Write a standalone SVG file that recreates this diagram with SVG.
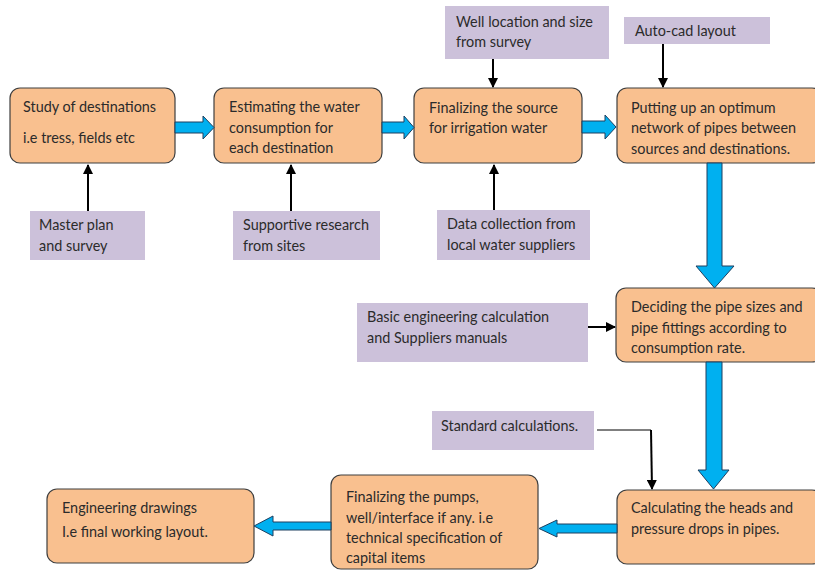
<svg xmlns="http://www.w3.org/2000/svg" width="815" height="573" viewBox="0 0 815 573">
<style>
.node rect.main{fill:#F9C08F;stroke:#3f3f3f;stroke-width:1.2}
.input rect{fill:#CCC1DA;stroke:none}
text{font-family:Lato,"Open Sans","Liberation Sans",sans-serif;font-size:14.4px;fill:#2b2b2b}
.blk{fill:#00B0F0;stroke:#1f3f5f;stroke-width:1}
.thin{stroke:#000;stroke-width:2;fill:none}
</style>
<defs>
<marker id="ah" viewBox="0 0 10 10" refX="9" refY="5" markerWidth="5" markerHeight="5" orient="auto" markerUnits="strokeWidth"><path d="M0,0 L10,5 L0,10 z" fill="#000"/></marker>
<clipPath id="c5"><rect x="616" y="288" width="206" height="67"/></clipPath>
</defs>
<rect width="815" height="573" fill="#fff"/>

<g id="n1" class="node"><rect class="main" x="10" y="88" width="165" height="75" rx="10"/><text x="23" y="112">Study of destinations</text><text x="23" y="143">i.e tress, fields etc</text></g>
<g id="n2" class="node"><rect class="main" x="214" y="88" width="168" height="75" rx="10"/><text x="229" y="112">Estimating the water</text><text x="229" y="133">consumption for</text><text x="229" y="153">each destination</text></g>
<g id="n3" class="node"><rect class="main" x="414" y="88" width="168" height="75" rx="10"/><text x="429" y="113">Finalizing the source</text><text x="429" y="133">for irrigation water</text></g>
<g id="n4" class="node"><rect class="main" x="617" y="88" width="205" height="75" rx="10"/><text x="631" y="113">Putting up an optimum</text><text x="631" y="133">network of pipes between</text><text x="631" y="154">sources and destinations.</text></g>
<g id="n5" class="node"><rect class="main" x="616" y="288" width="206" height="74" rx="10"/><text x="631" y="312">Deciding the pipe sizes and</text><text x="631" y="333">pipe fittings according to</text><text x="631" y="353" clip-path="url(#c5)">consumption rate.</text></g>
<g id="n6" class="node"><rect class="main" x="617" y="490" width="205" height="74" rx="10"/><text x="631" y="513">Calculating the heads and</text><text x="631" y="534">pressure drops in pipes.</text></g>
<g id="n7" class="node"><rect class="main" x="331" y="475" width="207" height="94" rx="10"/><text x="346" y="502">Finalizing the pumps,</text><text x="346" y="523">well/interface if any. i.e</text><text x="346" y="543">technical specification of</text><text x="346" y="563">capital items</text></g>
<g id="n8" class="node"><rect class="main" x="47" y="489" width="207" height="74" rx="10"/><text x="62" y="513">Engineering drawings</text><text x="62" y="537">I.e final working layout.</text></g>

<g id="i1" class="input"><rect x="445" y="6" width="164" height="53"/><text x="456" y="27">Well location and size</text><text x="456" y="47">from survey</text></g>
<g id="i2" class="input"><rect x="624" y="17" width="146" height="27"/><text x="635" y="36">Auto-cad layout</text></g>
<g id="i3" class="input"><rect x="30" y="211" width="115" height="49"/><text x="39" y="230">Master plan</text><text x="39" y="251">and survey</text></g>
<g id="i4" class="input"><rect x="233" y="211" width="147" height="49"/><text x="243" y="230">Supportive research</text><text x="243" y="251">from sites</text></g>
<g id="i5" class="input"><rect x="437" y="210" width="153" height="50"/><text x="447" y="229">Data collection from</text><text x="447" y="250">local water suppliers</text></g>
<g id="i6" class="input"><rect x="357" y="303" width="231" height="59"/><text x="367" y="322">Basic engineering calculation</text><text x="367" y="343">and Suppliers manuals</text></g>
<g id="i7" class="input"><rect x="432" y="411" width="162" height="39"/><text x="441" y="431">Standard calculations.</text></g>

<g id="connectors">
<path class="blk" d="M175,122 H203 V116 L214,127.5 L203,139 V133 H175 Z"/>
<path class="blk" d="M382,122 H404 V116 L414,127.5 L404,139 V133 H382 Z"/>
<path class="blk" d="M582,121 H605 V115 L616,127 L605,139 V133 H582 Z"/>
<path class="blk" d="M707,163 H722 V266 H734 L714.5,288 L696,266 H707 Z"/>
<path class="blk" d="M706,362 H722 V470 H729 L713.5,489 L698,470 H706 Z"/>
<path class="blk" d="M617,524 H557 V520 L539,528.5 L557,537 V533 H617 Z"/>
<path class="blk" d="M331,522 H273 V516 L254,526 L273,536 V530 H331 Z"/>
<line class="thin" x1="88" y1="211" x2="88" y2="165" marker-end="url(#ah)"/>
<line class="thin" x1="291" y1="211" x2="291" y2="165" marker-end="url(#ah)"/>
<line class="thin" x1="494" y1="210" x2="494" y2="165" marker-end="url(#ah)"/>
<line class="thin" x1="493" y1="59" x2="493" y2="87" marker-end="url(#ah)"/>
<line class="thin" x1="663" y1="44" x2="663" y2="87" marker-end="url(#ah)"/>
<line class="thin" x1="588" y1="327" x2="615" y2="327" marker-end="url(#ah)"/>
<path d="M597,430 H651" stroke="#000" stroke-width="1" fill="none"/>
<line class="thin" x1="651" y1="430" x2="652" y2="489" marker-end="url(#ah)"/>
</g>
</svg>
